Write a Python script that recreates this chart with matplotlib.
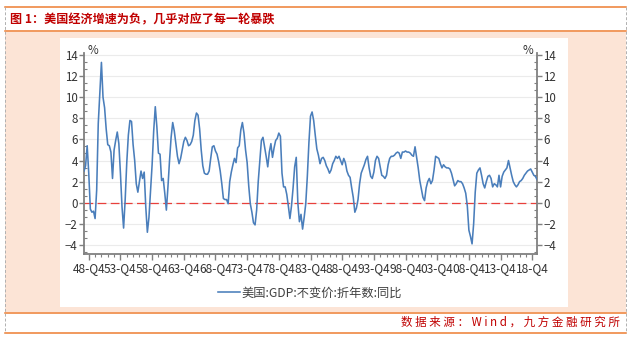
import matplotlib
matplotlib.use('Agg')
from matplotlib import pyplot as plt
from matplotlib.ticker import FixedLocator, MultipleLocator
from matplotlib.patches import Rectangle

plt.rcParams['font.family'] = ['Noto Sans CJK SC', 'DejaVu Sans']

title = '图 1：美国经济增速为负，几乎对应了每一轮暴跌'
source = '数 据 来 源 ： W i n d ， 九 方 金 融 研 究 所'
series_name = '美国:GDP:不变价:折年数:同比'

# quarterly YoY, 1948Q1 .. 2019Q3 (%)
gdp_yoy = [
    3.0, 3.5, 5.4, 2.8,      # 1948
    -0.6, -0.9, -0.8, -1.5,  # 1949
    1.2, 7.5, 10.5, 13.3,    # 1950
    10.0, 9.0, 7.0, 5.5,     # 1951
    5.4, 4.8, 2.3, 5.0,      # 1952
    5.9, 6.7, 5.6, 2.8,      # 1953
    -0.4, -2.4, 0.3, 3.8,    # 1954
    6.4, 7.8, 7.7, 5.5,      # 1955
    4.0, 1.8, 1.0, 2.0,      # 1956
    3.0, 2.3, 2.9, -0.4,     # 1957
    -2.8, -1.4, 1.1, 3.6,    # 1958
    6.8, 9.1, 7.2, 4.7,      # 1959
    4.6, 2.1, 2.3, 0.9,      # 1960
    -0.7, 1.5, 4.0, 6.2,     # 1961
    7.6, 6.8, 5.6, 4.4,      # 1962
    3.7, 4.2, 5.0, 5.8,      # 1963
    6.2, 5.9, 5.4, 5.5,      # 1964
    5.8, 6.4, 7.8, 8.5,      # 1965
    8.3, 7.0, 5.0, 3.5,      # 1966
    2.8, 2.7, 2.7, 3.0,      # 1967
    4.2, 5.3, 5.4, 4.9,      # 1968
    4.6, 3.9, 3.0, 1.8,      # 1969
    0.4, 0.3, 0.3, -0.1,     # 1970
    2.0, 2.9, 3.6, 4.2,      # 1971
    3.8, 5.2, 5.4, 6.9,      # 1972
    7.6, 6.6, 5.0, 3.8,      # 1973
    1.6, -0.1, -0.9, -1.9,   # 1974
    -2.1, -0.7, 2.0, 3.9,    # 1975
    5.9, 6.2, 5.3, 4.4,      # 1976
    3.4, 4.8, 5.6, 4.3,      # 1977
    5.2, 5.9, 6.1, 6.6,      # 1978
    6.3, 2.8, 1.5, 1.5,      # 1979
    0.8, -0.3, -1.5, -0.3,   # 1980
    1.4, 3.4, 4.3, 0.0,      # 1981
    -1.8, -1.1, -2.5, -1.4,  # 1982
    -0.1, 2.5, 5.7, 8.2,     # 1983
    8.6, 7.8, 6.4, 5.1,      # 1984
    4.5, 3.7, 4.2, 4.3,      # 1985
    4.0, 3.5, 3.2, 2.8,      # 1986
    3.1, 3.7, 4.0, 4.4,      # 1987
    4.2, 4.4, 4.0, 3.6,      # 1988
    4.2, 3.8, 3.0, 2.6,      # 1989
    2.4, 1.4, 0.5, -0.9,     # 1990
    -0.5, 0.3, 1.8, 2.8,     # 1991
    3.2, 3.6, 4.1, 4.4,      # 1992
    3.3, 2.5, 2.3, 2.9,      # 1993
    4.0, 4.4, 4.2, 3.4,      # 1994
    2.6, 2.5, 2.3, 2.6,      # 1995
    3.6, 4.2, 4.4, 4.4,      # 1996
    4.5, 4.7, 4.8, 4.7,      # 1997
    4.2, 4.8, 4.8, 4.9,      # 1998
    4.8, 4.8, 4.7, 4.5,      # 1999
    4.4, 5.3, 4.3, 3.3,      # 2000
    2.1, 1.3, 0.5, 0.2,      # 2001
    1.4, 2.0, 2.3, 1.8,      # 2002
    2.1, 3.1, 4.4, 4.3,      # 2003
    4.2, 3.7, 3.3, 3.6,      # 2004
    3.4, 3.3, 3.3, 3.2,      # 2005
    2.8, 2.2, 1.6, 1.8,      # 2006
    2.1, 2.0, 2.0, 1.8,      # 2007
    1.4, 0.9, -0.3, -2.6,    # 2008
    -3.2, -3.9, -2.0, 1.0,   # 2009
    2.8, 3.1, 3.3, 2.6,      # 2010
    1.8, 1.4, 2.0, 2.5,      # 2011
    2.6, 2.3, 1.5, 1.8,      # 2012
    1.7, 1.5, 2.6, 1.5,      # 2013
    2.5, 2.9, 3.1, 3.3,      # 2014
    4.0, 3.3, 2.6, 2.0,      # 2015
    1.7, 1.5, 1.7, 2.0,      # 2016
    2.1, 2.3, 2.6, 2.8,      # 2017
    3.0, 3.1, 3.2, 2.9,      # 2018
    2.6, 2.5, 2.2,           # 2019
]
tick_labels = ['48-Q4', '53-Q4', '58-Q4', '63-Q4', '68-Q4', '73-Q4', '78-Q4', '83-Q4',
               '88-Q4', '93-Q4', '98-Q4', '03-Q4', '08-Q4', '13-Q4', '18-Q4']

W, H = 631, 338
fig = plt.figure(figsize=(W / 100, H / 100), dpi=100)

# frame drawn in pixel coords
bg = fig.add_axes([0, 0, 1, 1])
bg.set_xlim(0, W)
bg.set_ylim(H, 0)
bg.axis('off')
orange = '#ed7d31'
bg.add_patch(Rectangle((5, 32), 621, 280, facecolor='#fce4d6', edgecolor='none'))
bg.add_patch(Rectangle((60, 38), 508, 269, facecolor='white', edgecolor='none'))
for yy in (7, 31, 312.5, 332.5):
    bg.plot([5, 626], [yy, yy], color=orange, lw=1.1)
for xx in (5, 626):
    bg.plot([xx, xx], [7, 333], color='#b0b0b0', lw=0.7, ls=(0, (3, 2)))
bg.text(10, 19.5, title, fontsize=8.7, fontweight='bold', color='#c00000', va='center', ha='left')
bg.text(620, 322.5, source, fontsize=8.3, color='#c00000', va='center', ha='right')

ax = fig.add_axes([84 / W, 1 - 254 / H, (537 - 84) / W, (254 - 53) / H])
x = list(range(len(gdp_yoy)))
ax.plot(x, gdp_yoy, color='#4a7ebb', lw=1.15, label=series_name, zorder=3)
ax.axhline(0, color='#e8403c', lw=0.9, dashes=(7, 3.5), zorder=2)

ax.set_xlim(0, len(gdp_yoy) - 1)
ax.set_ylim(-4.86, 14.19)
ax.yaxis.set_major_locator(FixedLocator([-4, -2, 0, 2, 4, 6, 8, 10, 12, 14]))
ax.yaxis.set_minor_locator(MultipleLocator(2 / 3))
ax.set_xticks([3 + 20 * i for i in range(len(tick_labels))])
ax.set_xticklabels(tick_labels)
ax.xaxis.set_minor_locator(FixedLocator(list(range(3, len(gdp_yoy), 4))))
ax.yaxis.grid(True, color='#ebebeb', lw=0.8)
ax.set_axisbelow(True)

for s in ('left', 'right', 'bottom'):
    ax.spines[s].set_color('#808080')
    ax.spines[s].set_linewidth(1.3)
ax.spines['top'].set_visible(False)

ax.tick_params(axis='y', which='major', direction='out', length=3.5, width=1, color='#808080',
               left=True, right=True, labelleft=True, labelright=True, labelsize=8.3, pad=1,
               labelcolor='#333333')
ax.tick_params(axis='y', which='minor', direction='in', length=2.5, width=0.8, color='#808080',
               left=True, right=True)
ax.tick_params(axis='x', which='major', direction='out', length=4, width=1, color='#808080',
               labelsize=8.6, pad=1.5, labelcolor='#333333')
ax.tick_params(axis='x', which='minor', direction='out', length=2.5, width=0.8, color='#808080')

ax.text(0.008, 1.01, '%', transform=ax.transAxes, fontsize=8.3, color='#333333', ha='left', va='center')
ax.text(0.992, 1.01, '%', transform=ax.transAxes, fontsize=8.3, color='#333333', ha='right', va='center')

fig.legend(loc='center', bbox_to_anchor=(310 / W, 1 - 293 / H), frameon=False, fontsize=8.8,
           handlelength=1.8, handletextpad=0.2, labelcolor='#404040')

plt.savefig('out.png', dpi=100)
